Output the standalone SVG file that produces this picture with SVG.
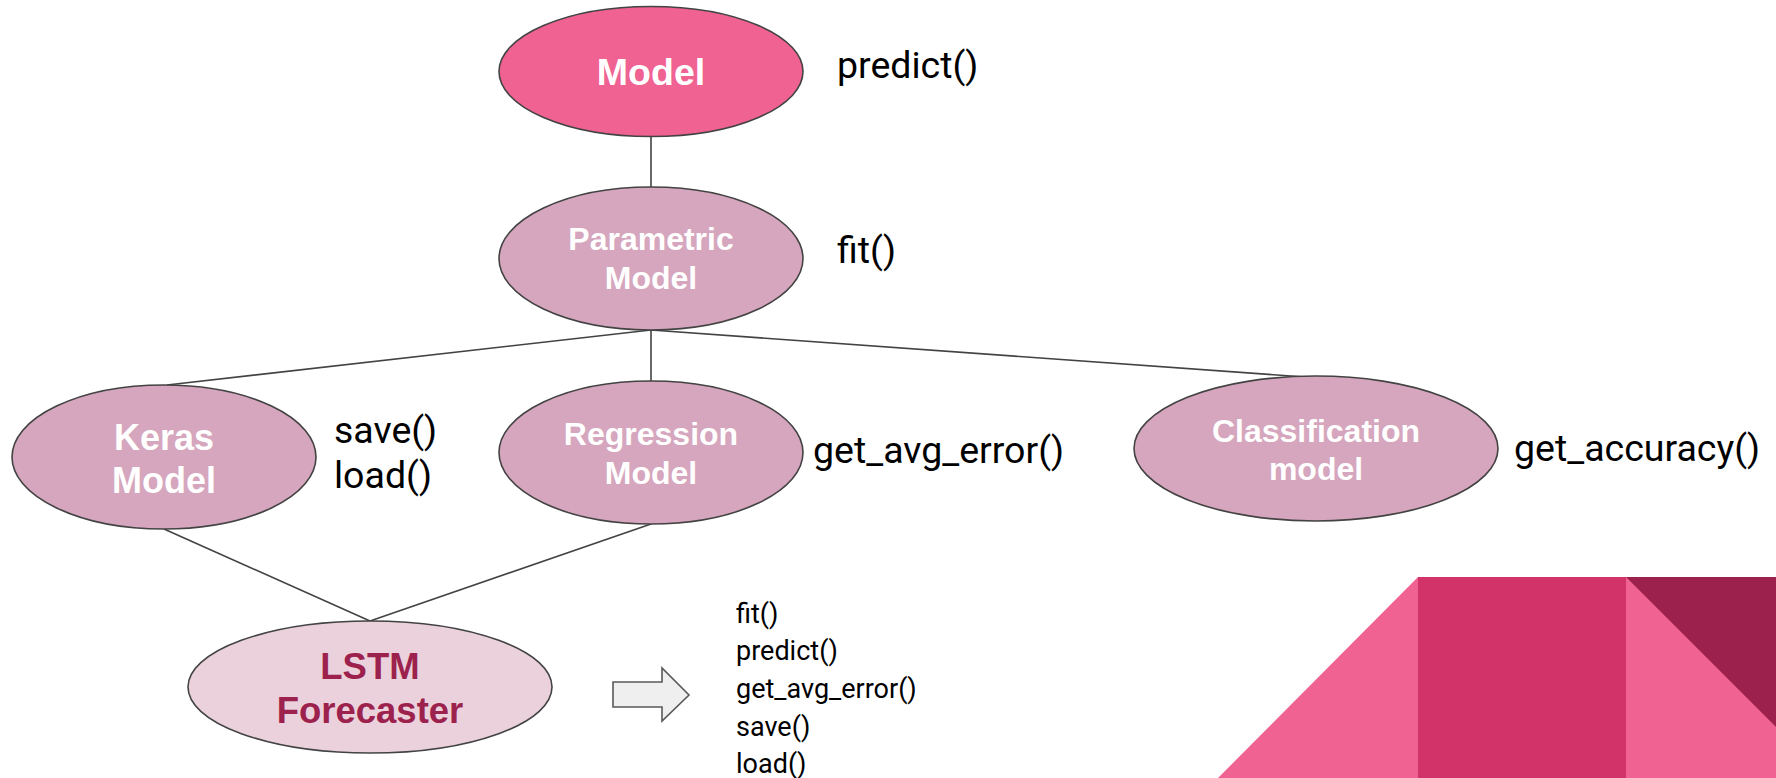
<svg xmlns="http://www.w3.org/2000/svg" width="1776" height="778" viewBox="0 0 1776 778">
<style>
.node{stroke:#434343;stroke-width:1.6}
.lbl{font-family:"Liberation Sans",Arial,sans-serif;font-weight:bold;text-anchor:middle;fill:#ffffff}
.m{font-family:Roboto,"Liberation Sans",sans-serif;fill:#000000}
.big{font-size:37.5px}
.small{font-size:27px}
.conn line{stroke:#434343;stroke-width:1.6}
</style>
<rect width="1776" height="778" fill="#ffffff"/>
<g id="decor">
<polygon points="1218,778 1418,577 1418,778" fill="#f06292"/>
<rect x="1418" y="577" width="208" height="201" fill="#d23369"/>
<rect x="1626" y="577" width="150" height="201" fill="#f06292"/>
<polygon points="1626,577 1776,577 1776,727" fill="#9c224d"/>
</g>
<g id="connectors" class="conn">
<line x1="651" y1="136" x2="651" y2="187"/>
<line x1="651" y1="330" x2="167" y2="385"/>
<line x1="651" y1="330" x2="651" y2="381"/>
<line x1="651" y1="330" x2="1305" y2="377"/>
<line x1="164" y1="529" x2="370" y2="621"/>
<line x1="651" y1="524" x2="370" y2="621"/>
</g>
<g id="model">
<ellipse class="node" cx="651" cy="71.5" rx="152" ry="65" fill="#f06292"/>
<text class="lbl" x="651" y="85" font-size="37.5">Model</text>
</g>
<g id="parametric">
<ellipse class="node" cx="651" cy="258.5" rx="152" ry="71.5" fill="#d5a6bd"/>
<text class="lbl" x="651" y="250" font-size="32">Parametric</text>
<text class="lbl" x="651" y="289" font-size="32">Model</text>
</g>
<g id="keras">
<ellipse class="node" cx="164" cy="457" rx="152" ry="72" fill="#d5a6bd"/>
<text class="lbl" x="164" y="450" font-size="36">Keras</text>
<text class="lbl" x="164" y="493" font-size="36">Model</text>
</g>
<g id="regression">
<ellipse class="node" cx="651" cy="452.5" rx="152" ry="71.5" fill="#d5a6bd"/>
<text class="lbl" x="651" y="445" font-size="32">Regression</text>
<text class="lbl" x="651" y="484" font-size="32">Model</text>
</g>
<g id="classification">
<ellipse class="node" cx="1316" cy="448.5" rx="182" ry="72.5" fill="#d5a6bd"/>
<text class="lbl" x="1316" y="442" font-size="32">Classification</text>
<text class="lbl" x="1316" y="480" font-size="32">model</text>
</g>
<g id="lstm">
<ellipse class="node" cx="370" cy="687" rx="182" ry="66" fill="#ead1dc"/>
<text class="lbl" x="370" y="679" font-size="36.5" style="fill:#9c224d">LSTM</text>
<text class="lbl" x="370" y="723" font-size="36.5" style="fill:#9c224d">Forecaster</text>
</g>
<g id="methods">
<text class="m big" x="837" y="78">predict()</text>
<text class="m big" x="837" y="263">fit()</text>
<text class="m big" x="334" y="443">save()</text>
<text class="m big" x="334" y="488">load()</text>
<text class="m big" x="813" y="463">get_avg_error()</text>
<text class="m big" x="1514" y="461">get_accuracy()</text>
</g>
<g id="arrow">
<polygon points="613,682 662,682 662,668 689,695 662,721 662,707 613,707" fill="#efefef" stroke="#595959" stroke-width="1.6"/>
</g>
<g id="list">
<text class="m small" x="736" y="623">fit()</text>
<text class="m small" x="736" y="660">predict()</text>
<text class="m small" x="736" y="698">get_avg_error()</text>
<text class="m small" x="736" y="736">save()</text>
<text class="m small" x="736" y="773">load()</text>
</g>
</svg>
